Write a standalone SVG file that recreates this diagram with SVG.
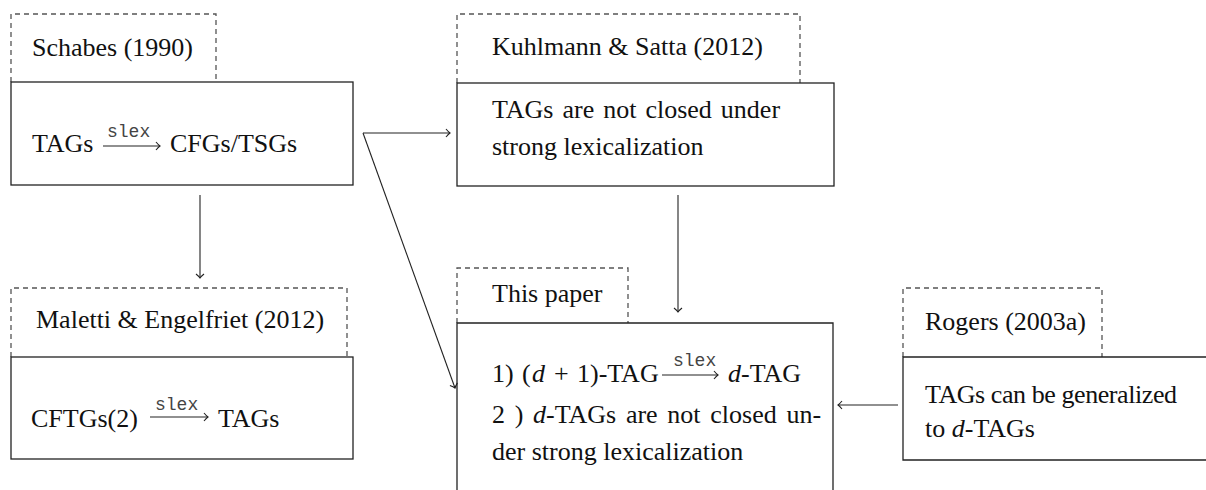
<svg xmlns="http://www.w3.org/2000/svg" id="d" width="1206" height="490" viewBox="0 0 1206 490" font-family="'Liberation Serif', 'Times New Roman', serif">
<defs>
<marker id="to" markerWidth="12" markerHeight="12" refX="0" refY="0" viewBox="-6 -6 12 12" orient="auto" markerUnits="userSpaceOnUse">
<path d="M -4 -4 Q -1.5 -1 0 0 Q -1.5 1 -4 4" fill="none" stroke="#222" stroke-width="1.1"/>
</marker>
</defs>
<style>
#d text.t{font-family:"Liberation Serif","Times New Roman",serif;font-size:26px;fill:#111}
#d .it{font-style:italic}
#d text.slex{font-family:"Liberation Mono","Courier New",monospace;font-size:18px;fill:#444}
#d .box{fill:none;stroke:#222;stroke-width:1.3}
#d .dash{fill:none;stroke:#555;stroke-width:1.3;stroke-dasharray:5 4}
#d .edge{fill:none;stroke:#222;stroke-width:1.1}
#d .marr{fill:none;stroke:#222;stroke-width:1.1}
</style>
<rect width="1206" height="490" fill="#fff"/>
<g id="connectors">
<path class="edge" marker-end="url(#to)" d="M 363 133 H 450"/>
<path class="edge" marker-end="url(#to)" d="M 363 133 L 455 388"/>
<path class="edge" marker-end="url(#to)" d="M 200 195 V 278"/>
<path class="edge" marker-end="url(#to)" d="M 678 195 V 312"/>
<path class="edge" marker-end="url(#to)" d="M 898 405 H 838"/>
</g>
<g id="schabes">
<path class="dash" d="M 11 82 V 14 H 216 V 82"/>
<rect class="box" x="11" y="82" width="342" height="103"/>
<text class="t" x="32" y="56">Schabes (1990)</text>
<text class="t" x="32" y="152">TAGs</text>
<text class="slex" x="107" y="137">slex</text>
<path class="marr" marker-end="url(#to)" d="M 103 146 H 160"/>
<text class="t" x="170" y="152">CFGs/TSGs</text>
</g>
<g id="kuhlmann">
<path class="dash" d="M 457 83 V 14 H 800 V 83"/>
<rect class="box" x="457" y="83" width="377" height="103"/>
<text class="t" x="492" y="55">Kuhlmann &amp; Satta (2012)</text>
<text class="t" x="492" y="118" word-spacing="2.5">TAGs are not closed under</text>
<text class="t" x="492" y="155">strong lexicalization</text>
</g>
<g id="maletti">
<path class="dash" d="M 11 357 V 288 H 347 V 357"/>
<rect class="box" x="11" y="357" width="342" height="102"/>
<text class="t" x="36" y="328">Maletti &amp; Engelfriet (2012)</text>
<text class="t" x="31" y="427">CFTGs(2)</text>
<text class="slex" x="155" y="410">slex</text>
<path class="marr" marker-end="url(#to)" d="M 150 417 H 208"/>
<text class="t" x="218" y="427">TAGs</text>
</g>
<g id="thispaper">
<path class="dash" d="M 457 323 V 268 H 628 V 323"/>
<path class="box" d="M 457 500 V 323 H 833 V 500"/>
<text class="t" x="492" y="302">This paper</text>
<text class="t" x="492" y="382">1)</text>
<text class="t" x="522" y="382">(</text>
<text class="t it" x="532" y="382">d</text>
<text class="t" x="554" y="382">+</text>
<text class="t" x="577" y="382">1)-TAG</text>
<text class="slex" x="673" y="366">slex</text>
<path class="marr" marker-end="url(#to)" d="M 662 375 H 718"/>
<text class="t it" x="728" y="382">d</text>
<text class="t" x="741" y="382">-TAG</text>
<text class="t" x="492" y="423" word-spacing="3.2">2 ) <tspan class="it">d</tspan>-TAGs are not closed un-</text>
<text class="t" x="492" y="460">der strong lexicalization</text>
</g>
<g id="rogers">
<path class="dash" d="M 903 357 V 288 H 1102 V 357"/>
<path class="box" d="M 1210 357 H 903 V 460 H 1210"/>
<text class="t" x="925" y="330">Rogers (2003a)</text>
<text class="t" x="925" y="403" textLength="252" lengthAdjust="spacing">TAGs can be generalized</text>
<text class="t" x="925" y="437">to <tspan class="it">d</tspan>-TAGs</text>
</g>
</svg>
